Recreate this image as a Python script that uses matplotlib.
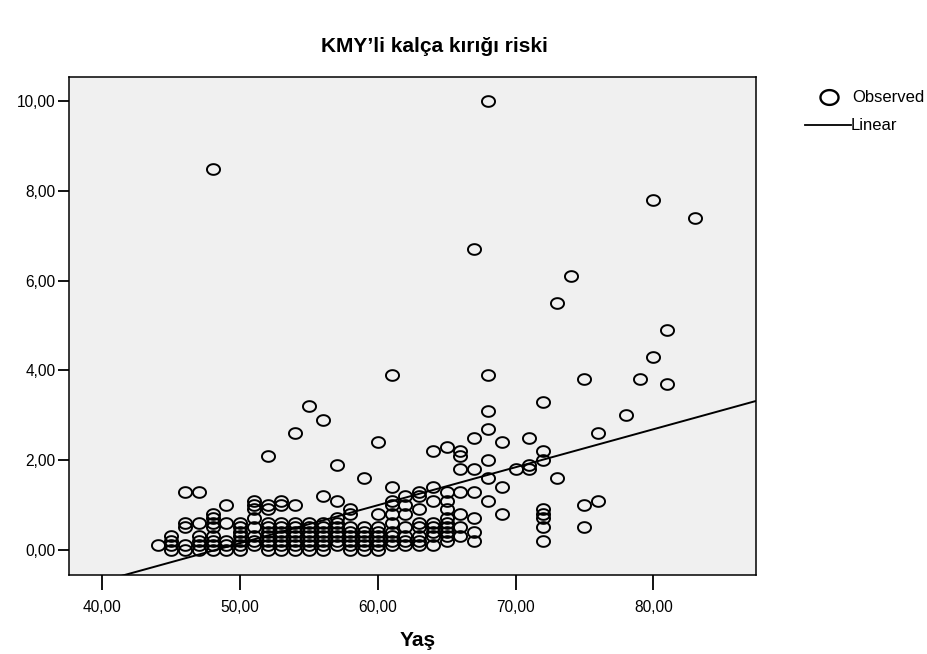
import numpy as np
import matplotlib
matplotlib.use("Agg")
import matplotlib.pyplot as plt
from matplotlib.path import Path
from matplotlib.lines import Line2D

plt.rcParams['font.family'] = ['Liberation Sans', 'DejaVu Sans']

# Observed risk values per age (Yaş)
risk_by_age = {
    44: [0.1],
    45: [0.3, 0.2, 0.1, 0.0],
    46: [1.3, 0.6, 0.5, 0.1, 0.0],
    47: [1.3, 0.6, 0.3, 0.2, 0.1, 0.0],
    48: [8.5, 0.8, 0.7, 0.6, 0.5, 0.3, 0.2, 0.1, 0.0],
    49: [1.0, 0.6, 0.2, 0.1, 0.0],
    50: [0.6, 0.5, 0.4, 0.3, 0.2, 0.1, 0.0],
    51: [1.1, 1.0, 0.9, 0.7, 0.5, 0.3, 0.2, 0.1],
    52: [2.1, 1.0, 0.9, 0.6, 0.5, 0.4, 0.3, 0.2, 0.1, 0.0],
    53: [1.1, 1.0, 0.6, 0.5, 0.4, 0.3, 0.2, 0.1, 0.0],
    54: [2.6, 1.0, 0.6, 0.5, 0.4, 0.3, 0.2, 0.1, 0.0],
    55: [3.2, 0.6, 0.5, 0.4, 0.3, 0.2, 0.1, 0.0],
    56: [2.9, 1.2, 0.6, 0.5, 0.4, 0.3, 0.2, 0.1, 0.0],
    57: [1.9, 1.1, 0.7, 0.6, 0.5, 0.4, 0.3, 0.2, 0.1],
    58: [0.9, 0.8, 0.5, 0.4, 0.3, 0.2, 0.1, 0.0],
    59: [1.6, 0.5, 0.4, 0.3, 0.2, 0.1, 0.0],
    60: [2.4, 0.8, 0.5, 0.4, 0.3, 0.2, 0.1, 0.0],
    61: [3.9, 1.4, 1.1, 1.0, 0.8, 0.6, 0.4, 0.3, 0.2, 0.1],
    62: [1.2, 1.0, 0.8, 0.5, 0.3, 0.2, 0.1],
    63: [1.3, 1.2, 0.9, 0.6, 0.5, 0.3, 0.2, 0.1],
    64: [2.2, 1.4, 1.1, 0.6, 0.5, 0.4, 0.3, 0.1],
    65: [2.3, 1.3, 1.1, 0.9, 0.7, 0.6, 0.5, 0.4, 0.3, 0.2],
    66: [2.2, 2.1, 1.8, 1.3, 0.8, 0.5, 0.3],
    67: [6.7, 2.5, 1.8, 1.3, 0.7, 0.4, 0.2],
    68: [10.0, 3.9, 3.1, 2.7, 2.0, 1.6, 1.1],
    69: [2.4, 1.4, 0.8],
    70: [1.8],
    71: [2.5, 1.9, 1.8],
    72: [3.3, 2.2, 2.0, 0.9, 0.8, 0.7, 0.5, 0.2],
    73: [5.5, 1.6],
    74: [6.1],
    75: [3.8, 1.0, 0.5],
    76: [2.6, 1.1],
    78: [3.0],
    79: [3.8],
    80: [7.8, 4.3],
    81: [4.9, 3.7],
    83: [7.4],
}

# Linear fit as drawn in the chart
fit_intercept = -4.08
fit_slope = 0.0846

x_ticks = [40, 50, 60, 70, 80]
x_tick_labels = ["40,00", "50,00", "60,00", "70,00", "80,00"]
y_ticks = [0, 2, 4, 6, 8, 10]
y_tick_labels = ["0,00", "2,00", "4,00", "6,00", "8,00", "10,00"]

title = "KMY\u2019li kalça kırığı riski"
xlabel = "Yaş"

ages = np.array([a for a, vals in risk_by_age.items() for _ in vals], dtype=float)
risks = np.array([v for a, vals in risk_by_age.items() for v in vals], dtype=float)

fig = plt.figure(figsize=(9.28, 6.54), dpi=100)
fig.patch.set_facecolor("white")
ax = fig.add_axes([69/928, 1-575/654, (756-69)/928, (575-77)/654])
ax.set_facecolor("#F0F0F0")

xlim = (37.57, 87.46)
ylim = (-0.56, 10.54)
ax.set_xlim(*xlim)
ax.set_ylim(*ylim)

# slightly flattened circle marker
t = np.linspace(0, 2*np.pi, 60)
ell = Path(np.column_stack([np.cos(t), 0.82*np.sin(t)]), closed=True)

ax.plot(ages, risks, linestyle="none", marker=ell, markersize=9.4,
        markerfacecolor="none", markeredgecolor="black", markeredgewidth=1.4,
        zorder=3)

xl = np.array(xlim)
ax.plot(xl, fit_intercept + fit_slope*xl, color="black", linewidth=1.4, zorder=4,
        solid_capstyle="butt")

ax.set_xticks(x_ticks)
ax.set_xticklabels(x_tick_labels)
ax.set_yticks(y_ticks)
ax.set_yticklabels(y_tick_labels)
ax.tick_params(axis="y", direction="out", length=8, width=1.3, labelsize=11.2,
               colors="black", pad=1.5)
ax.tick_params(axis="x", direction="out", length=10.5, width=1.3, labelsize=11.2,
               colors="black", pad=7.5)
for s in ax.spines.values():
    s.set_linewidth(1.1)
    s.set_color("black")

fig.text(434/928, 1-47/654, title, ha="center", va="center", fontsize=15,
         fontweight="bold")
fig.text(418/928, 1-640/654, xlabel, ha="center", va="center", fontsize=15,
         fontweight="bold")

# legend (outside the plot)
leg_c = Line2D([829/928], [1-97/654], transform=fig.transFigure, marker=ell,
               markersize=13, markerfacecolor="none", markeredgecolor="black",
               markeredgewidth=1.7, linestyle="none")
fig.add_artist(leg_c)
fig.text(852/928, 1-97/654, "Observed", ha="left", va="center", fontsize=12)
leg_l = Line2D([805/928, 851/928], [1-125/654, 1-125/654], transform=fig.transFigure,
               color="black", linewidth=1.3)
fig.add_artist(leg_l)
fig.text(851/928, 1-125/654, "Linear", ha="left", va="center", fontsize=12)

fig.savefig("out.png", dpi=100)
